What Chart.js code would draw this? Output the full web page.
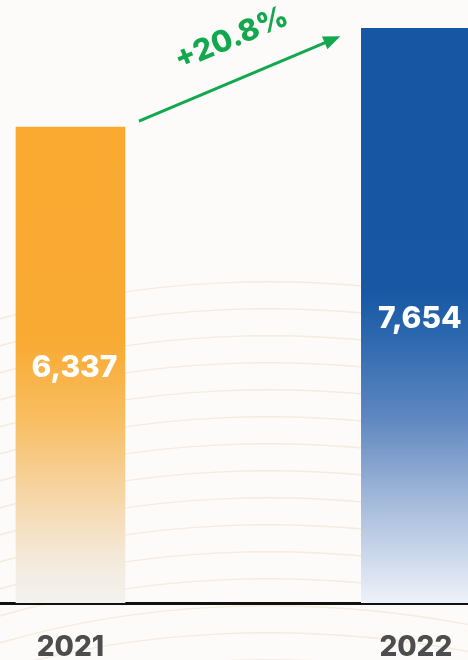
<!DOCTYPE html>
<html>
<head>
<meta charset="utf-8">
<script src="https://cdn.jsdelivr.net/npm/chart.js@4.4.0/dist/chart.umd.min.js"></script>
<style>
  html, body { margin: 0; padding: 0; background: #fdfbf9; overflow: hidden; }
  #wrap { width: 468px; height: 660px; position: relative; }
</style>
</head>
<body>
<div id="wrap"><canvas id="growthChart" width="468" height="660"></canvas></div>
<script>
const categories = ['2021', '2022'];
const values = [6337, 7654];
const growthLabel = '+20.8%';

const FONT = 'Inter, "Noto Sans", sans-serif';

// vertical fades: solid colour at the top, washing out near the baseline
function orangeFill(ctx, area) {
  const g = ctx.createLinearGradient(0, area.top, 0, area.bottom);
  const h = area.bottom - area.top;
  g.addColorStop(0, '#f9a930');
  g.addColorStop(340 / h, '#f9aa32');
  g.addColorStop(420 / h, '#f8be62');
  g.addColorStop(490 / h, '#f6d4a2');
  g.addColorStop(560 / h, '#f4eadb');
  g.addColorStop(1, '#f2f3f0');
  return g;
}
function blueFill(ctx, area) {
  const g = ctx.createLinearGradient(0, area.top, 0, area.bottom);
  const h = area.bottom - area.top;
  g.addColorStop(0, '#1656a3');
  g.addColorStop(290 / h, '#1757a4');
  g.addColorStop(340 / h, '#2e69af');
  g.addColorStop(420 / h, '#6088c1');
  g.addColorStop(500 / h, '#a3b9da');
  g.addColorStop(570 / h, '#d6e0ef');
  g.addColorStop(1, '#eef2f9');
  return g;
}

// faint wavy lines in the background
const backdrop = {
  id: 'backdrop',
  beforeDraw(chart) {
    const { ctx, width, height } = chart;
    ctx.save();
    ctx.fillStyle = '#fdfbf9';
    ctx.fillRect(0, 0, width, height);
    ctx.strokeStyle = 'rgba(233, 205, 175, 0.35)';
    ctx.lineWidth = 1.5;
    for (let y0 = 300; y0 < 700; y0 += 27) {
      ctx.beginPath();
      ctx.moveTo(-20, y0 + 25);
      ctx.bezierCurveTo(120, y0 - 20, 300, y0 - 35, 490, y0 + 5);
      ctx.stroke();
    }
    ctx.restore();
  }
};

// value labels inside the bars + growth arrow
const annotations = {
  id: 'annotations',
  afterDatasetsDraw(chart) {
    const { ctx } = chart;
    const bars = chart.getDatasetMeta(0).data;
    ctx.save();
    ctx.fillStyle = '#ffffff';
    ctx.font = '800 30px ' + FONT;
    ctx.textAlign = 'center';
    ctx.textBaseline = 'middle';
    bars.forEach((bar, i) => {
      const mid = (bar.y + bar.base) / 2;
      ctx.fillText(values[i].toLocaleString('en-US'), bar.x + 4, mid + 3);
    });

    const b1 = bars[0], b2 = bars[1];
    const x1 = b1.x + b1.width / 2 + 14, y1 = b1.y - 6;
    const x2 = b2.x - b2.width / 2 - 21, y2 = b2.y + 8;
    const ang = Math.atan2(y2 - y1, x2 - x1);
    ctx.strokeStyle = '#12a84e';
    ctx.fillStyle = '#12a84e';
    ctx.lineWidth = 3;
    ctx.beginPath();
    ctx.moveTo(x1, y1);
    ctx.lineTo(x2 - 10 * Math.cos(ang), y2 - 10 * Math.sin(ang));
    ctx.stroke();
    ctx.beginPath();
    ctx.moveTo(x2, y2);
    ctx.lineTo(x2 - 17 * Math.cos(ang) + 7 * Math.sin(ang), y2 - 17 * Math.sin(ang) - 7 * Math.cos(ang));
    ctx.lineTo(x2 - 17 * Math.cos(ang) - 7 * Math.sin(ang), y2 - 17 * Math.sin(ang) + 7 * Math.cos(ang));
    ctx.closePath();
    ctx.fill();

    ctx.translate((x1 + x2) / 2 - 8, (y1 + y2) / 2 - 40);
    ctx.rotate(ang);
    ctx.font = '800 30px ' + FONT;
    ctx.fillText(growthLabel, 0, 0);
    ctx.restore();
  }
};

const ctx = document.getElementById('growthChart').getContext('2d');

new Chart(ctx, {
  type: 'bar',
  data: {
    datasets: [
      {
        data: values.map((v, i) => ({ x: i, y: v })),
        backgroundColor: (c) => {
          const area = c.chart.chartArea;
          if (!area) return '#f9a930';
          return c.dataIndex === 0 ? orangeFill(c.chart.ctx, area) : blueFill(c.chart.ctx, area);
        },
        borderWidth: 0,
        barThickness: 109,
      },
    ],
  },
  options: {
    responsive: false,
    animation: false,
    layout: { padding: 0 },
    plugins: {
      legend: { display: false },
      tooltip: { enabled: false },
    },
    scales: {
      x: {
        type: 'linear',
        offset: false,
        bounds: 'data',
        min: -0.204,
        max: 1.151,
        grid: { display: false, drawTicks: false },
        border: { display: true, color: '#111111', width: 3 },
        afterBuildTicks: (scale) => {
          scale.ticks = categories.map((c, i) => ({ value: i }));
        },
        afterFit: (scale) => {
          scale.height = 57;
          scale.paddingLeft = 0;
          scale.paddingRight = 0;
        },
        ticks: {
          padding: 28,
          color: '#4d4d4d',
          font: { family: FONT, size: 28, weight: '800' },
          callback: (v) => categories[v],
        },
      },
      y: {
        display: false,
        min: 0,
        max: 8030,
      },
    },
  },
  plugins: [backdrop, annotations],
});
</script>
</body>
</html>
